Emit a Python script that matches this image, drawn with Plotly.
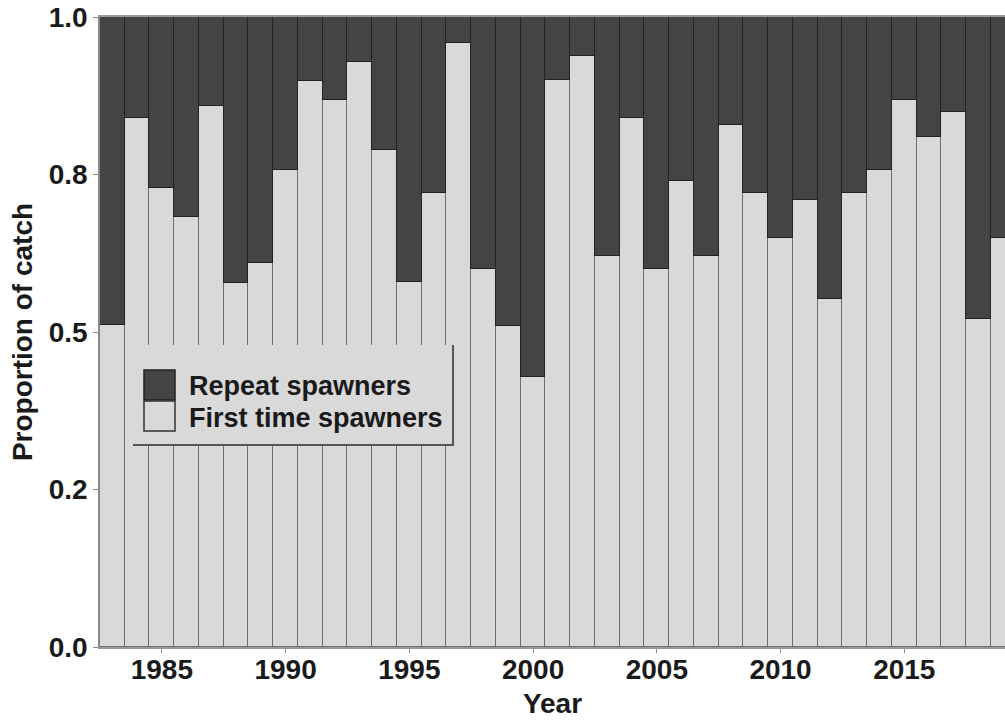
import plotly.graph_objects as go

years = list(range(1983, 2020))
first_time = [0.511, 0.839, 0.729, 0.683, 0.858, 0.578, 0.609, 0.757, 0.898, 0.869,
              0.929, 0.789, 0.580, 0.720, 0.958, 0.600, 0.510, 0.429, 0.900, 0.938,
              0.620, 0.839, 0.600, 0.739, 0.620, 0.829, 0.720, 0.650, 0.710, 0.552,
              0.720, 0.757, 0.869, 0.809, 0.849, 0.520, 0.650]
repeat = [round(1 - v, 3) for v in first_time]

y_tickvals = [0, 0.25, 0.5, 0.75, 1.0]
y_ticktext = ["0.0", "0.2", "0.5", "0.8", "1.0"]
x_tickvals = [1985, 1990, 1995, 2000, 2005, 2010, 2015]

DARK = "#444444"
LIGHT = "#d9d9d9"
FONT = "Liberation Sans, Arial, sans-serif"
TXT = "#1a1a1a"

fig = go.Figure()
fig.add_trace(go.Bar(x=years, y=first_time, name="First time spawners",
                     marker=dict(color=LIGHT, line=dict(color="#6e6e6e", width=1.5)),
                     width=1, showlegend=False))
fig.add_trace(go.Bar(x=years, y=repeat, name="Repeat spawners",
                     marker=dict(color=DARK, line=dict(color="#222222", width=1.5)),
                     width=1, showlegend=False))

W, H = 1005, 722
L, T, R, B = 100, 17, 0, 75
pw, ph = W - L - R, H - T - B

def px(xp):
    return (xp - L) / pw

def py(yp):
    return (H - B - yp) / ph

shapes = []
shapes.append(dict(type="rect", xref="paper", yref="paper",
                   x0=px(133), x1=px(453), y0=py(445), y1=py(345),
                   fillcolor=LIGHT, line=dict(width=0), layer="above"))
shapes.append(dict(type="line", xref="paper", yref="paper",
                   x0=px(453), x1=px(453), y0=py(446), y1=py(345),
                   line=dict(color="#555555", width=2), layer="above"))
shapes.append(dict(type="line", xref="paper", yref="paper",
                   x0=px(133), x1=px(454), y0=py(445), y1=py(445),
                   line=dict(color="#555555", width=2), layer="above"))
shapes.append(dict(type="rect", xref="paper", yref="paper",
                   x0=px(144), x1=px(175), y0=py(400), y1=py(370),
                   fillcolor=DARK, line=dict(color="#222222", width=1.5), layer="above"))
shapes.append(dict(type="rect", xref="paper", yref="paper",
                   x0=px(144), x1=px(175), y0=py(431), y1=py(401),
                   fillcolor=LIGHT, line=dict(color="#333333", width=1.5), layer="above"))

annotations = [
    dict(xref="paper", yref="paper", x=px(187), y=py(386), xanchor="left", yanchor="middle",
         text="Repeat spawners", showarrow=False,
         font=dict(family=FONT, size=27, color=TXT, weight="bold")),
    dict(xref="paper", yref="paper", x=px(187), y=py(418), xanchor="left", yanchor="middle",
         text="First time spawners", showarrow=False,
         font=dict(family=FONT, size=27, color=TXT, weight="bold")),
]

fig.update_layout(
    width=W, height=H,
    margin=dict(l=L, r=R, t=T, b=B, pad=0),
    barmode="stack", bargap=0,
    plot_bgcolor="white", paper_bgcolor="white",
    font=dict(family=FONT, size=28, color=TXT, weight="bold"),
    shapes=shapes, annotations=annotations,
    showlegend=False,
)
fig.update_xaxes(range=[1982.5, 2019.07], tickvals=x_tickvals, ticks="outside",
                 ticklen=4, tickcolor="#888888", showline=True, linecolor="#999999",
                 linewidth=1.5, mirror=True, showgrid=False, zeroline=False,
                 ticklabelstandoff=-7,
                 tickfont=dict(family=FONT, size=28, color=TXT, weight="bold"),
                 title=dict(text="Year", standoff=9,
                            font=dict(family=FONT, size=28, color=TXT, weight="bold")))
fig.update_yaxes(range=[0, 1], tickvals=y_tickvals, ticktext=y_ticktext, ticks="outside",
                 ticklen=5, tickcolor="#888888", showline=True, linecolor="#888888",
                 linewidth=1.5, showgrid=False, zeroline=False,
                 tickfont=dict(family=FONT, size=28, color=TXT, weight="bold"),
                 title=dict(text="Proportion of catch", standoff=8,
                            font=dict(family=FONT, size=28, color=TXT, weight="bold")))

fig.write_html("out.html")
